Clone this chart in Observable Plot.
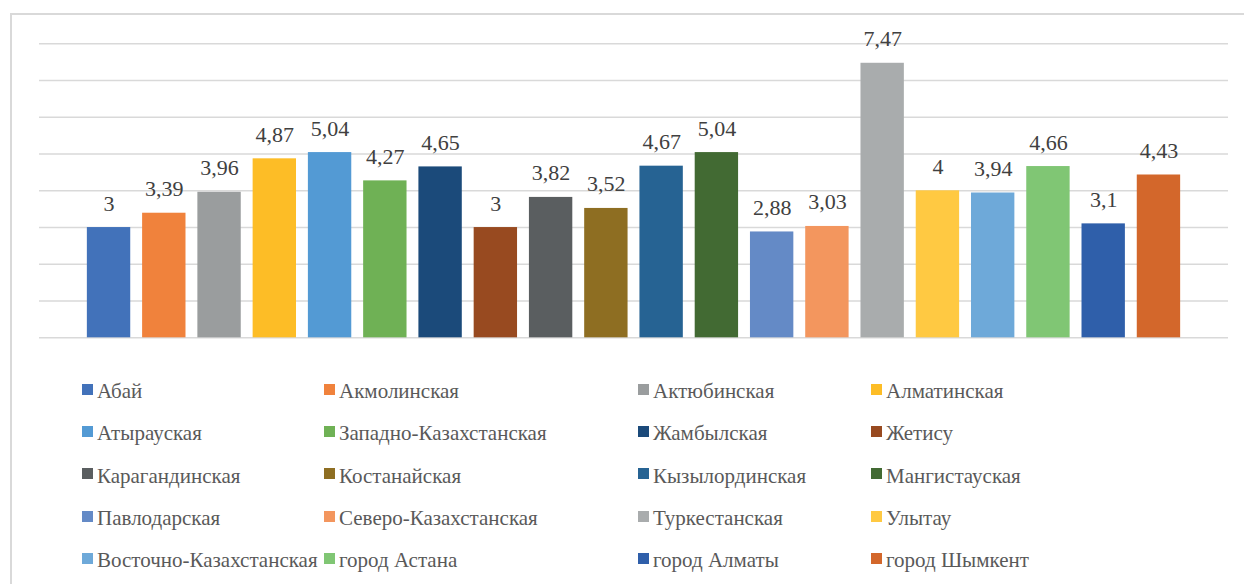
<!DOCTYPE html>
<html>
<head>
<meta charset="utf-8">
<script src="https://cdn.jsdelivr.net/npm/d3@7"></script>
<script src="https://cdn.jsdelivr.net/npm/@observablehq/plot@0.6"></script>
<style>
  html, body { margin: 0; padding: 0; background: #fff; }
  body { width: 1244px; height: 584px; position: relative; overflow: hidden; font-family: "Liberation Serif", "Times New Roman", "DejaVu Serif", serif; }
  #frame { position: absolute; left: 10px; top: 13px; width: 1300px; height: 700px; border: 2px solid #d9d9d9; box-sizing: border-box; }
  #chart { position: absolute; left: 0; top: 0; }
  #chart svg text { font-family: "Liberation Serif", "Times New Roman", "DejaVu Serif", serif !important; }
  #legend { position: absolute; left: 82px; top: 370px; display: grid; grid-template-columns: 242px 314px 233px auto; grid-auto-rows: 42.3px; }
  .item { display: flex; align-items: center; font-family: "Liberation Serif", "Times New Roman", "DejaVu Serif", serif; font-size: 21px; color: #595959; white-space: nowrap; line-height: 42.3px; }
  .sw { width: 11px; height: 11px; margin-right: 4px; position: relative; top: -2px; flex: none; }
</style>
</head>
<body>
<div id="frame"></div>
<div id="chart"></div>
<div id="legend"></div>
<script>
const regions = ["Абай","Акмолинская","Актюбинская","Алматинская","Атырауская","Западно-Казахстанская","Жамбылская","Жетису","Карагандинская","Костанайская","Кызылординская","Мангистауская","Павлодарская","Северо-Казахстанская","Туркестанская","Улытау","Восточно-Казахстанская","город Астана","город Алматы","город Шымкент"];
const values = [3, 3.39, 3.96, 4.87, 5.04, 4.27, 4.65, 3, 3.82, 3.52, 4.67, 5.04, 2.88, 3.03, 7.47, 4, 3.94, 4.66, 3.1, 4.43];
const colors = ["#4272BA","#F0823C","#9A9D9E","#FDBD26","#539AD4","#6FB155","#1B4A7A","#984A20","#5A5E60","#8E6E22","#266393","#426A33","#648AC6","#F3965E","#A9ACAD","#FFC942","#6EA9D9","#80C674","#2F5FAA","#D3672B"];
const gridTicks = [0, 1, 2, 3, 4, 5, 6, 7, 8];

const data = regions.map((r, i) => ({region: r, value: values[i]}));
const fmt = v => String(v).replace(".", ",");

const chart = Plot.plot({
  width: 1244,
  height: 350,
  marginLeft: 39,
  marginRight: 16,
  marginTop: 43.3,
  marginBottom: 12.7,
  style: {background: "transparent", fontFamily: "'Liberation Serif', 'Times New Roman', serif"},
  x: {domain: regions, paddingInner: 0.215, paddingOuter: 0.866, round: false, axis: null},
  y: {domain: [0, 8], axis: null},
  color: {domain: regions, range: colors},
  marks: [
    Plot.ruleY(gridTicks, {stroke: "#d9d9d9", strokeWidth: 1.6, strokeOpacity: 1}),
    Plot.barY(data, {x: "region", y: "value", fill: "region"}),
    Plot.text(data, {x: "region", y: "value", text: d => fmt(d.value), dy: -17, lineAnchor: "bottom", fontSize: 22, fill: "#404040"})
  ]
});
document.getElementById("chart").appendChild(chart);

const legend = document.getElementById("legend");
regions.forEach((r, i) => {
  const item = document.createElement("div");
  item.className = "item";
  const sw = document.createElement("span");
  sw.className = "sw";
  sw.style.background = colors[i];
  const t = document.createElement("span");
  t.textContent = r;
  item.appendChild(sw);
  item.appendChild(t);
  legend.appendChild(item);
});
</script>
</body>
</html>
